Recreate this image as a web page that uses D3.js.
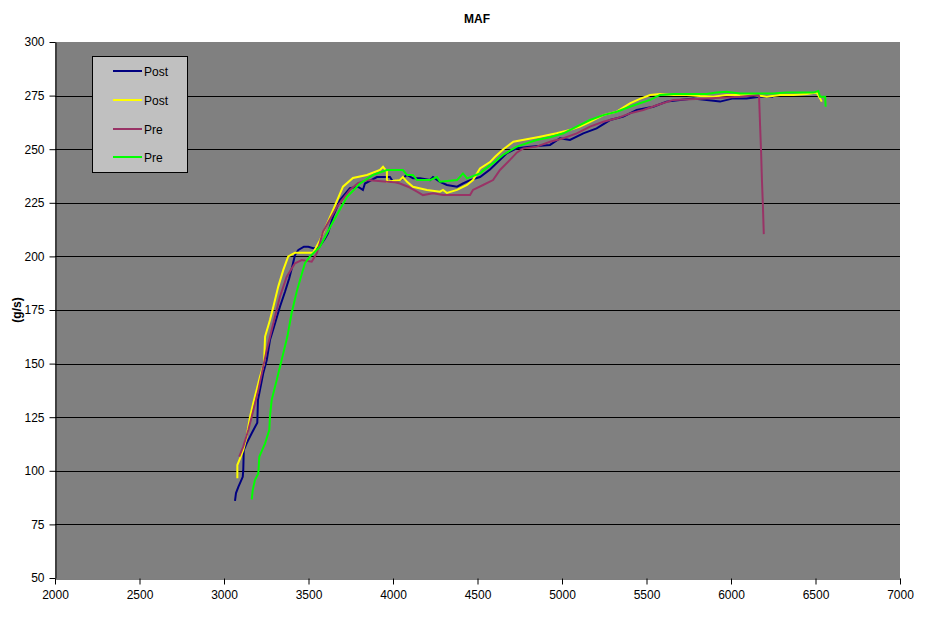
<!DOCTYPE html>
<html><head><meta charset="utf-8">
<script src="https://cdn.jsdelivr.net/npm/d3@7"></script>
<style>
body{margin:0;background:#fff;}
svg{display:block;font-family:"Liberation Sans",Arial,sans-serif;}
</style></head>
<body><svg id="c" width="938" height="624"></svg>
<script>
// ---- data ----
const chartTitle = "MAF";
const yAxisTitle = "(g/s)";
const xTicks = [2000,2500,3000,3500,4000,4500,5000,5500,6000,6500,7000];
const yTicks = [50,75,100,125,150,175,200,225,250,275,300];
const seriesNames = ["Post","Post","Pre","Pre"];
const seriesColors = ["#000080","#FFFF00","#993366","#00FF00"];

const postBlue = [[3065,86],[3071,89.6],[3085,92.5],[3111,97.2],[3114,100.3],[3117,109.7],[3134,112.8],[3164,117.5],[3197,122.4],[3201,133],[3232,145.5],[3253,151.7],[3272,161],[3296,167.2],[3331,176.5],[3361,183.5],[3386,189.8],[3406,196],[3420,200.7],[3440,203],[3473,204.5],[3499,204.5],[3528,203.8],[3560,204],[3598,208.4],[3615,210.8],[3645,218.5],[3686,226.3],[3745,231.8],[3793,232.5],[3822,231],[3834,234],[3905,237],[3982,237],[4000,234.8],[4041,235.6],[4083,238],[4118,236.4],[4160,236.4],[4219,235.6],[4237,237],[4278,234.8],[4319,233.3],[4379,232.5],[4414,234],[4456,235.6],[4515,237],[4574,240.5],[4673,248.1],[4732,250.4],[4811,251.2],[4929,252],[4988,255.1],[5047,254.3],[5126,257.4],[5205,259.7],[5284,263.6],[5363,265.2],[5442,268.3],[5540,269.8],[5619,272.2],[5698,273],[5777,273.7],[5856,273],[5935,272.2],[6013,273.7],[6092,273.7],[6171,274.5],[6250,274.5]];

const postYellow = [[3079,96.5],[3079,102.7],[3095,105.8],[3114,109.7],[3134,115.9],[3154,125.2],[3173,131.5],[3213,143.9],[3237,150],[3243,162.6],[3272,170.3],[3292,176.5],[3321,185.9],[3351,193.7],[3380,200],[3420,201.7],[3527,201.7],[3568,207.6],[3645,221.6],[3704,232.5],[3763,236.6],[3846,238],[3923,240.3],[3941,241.8],[3964,239.5],[3964,234.8],[4041,235.6],[4059,237],[4083,234.8],[4118,232.5],[4201,231],[4278,230.2],[4296,231],[4319,229.6],[4379,231],[4438,233.3],[4473,235.6],[4515,241],[4574,244],[4604,246.5],[4653,250],[4712,253.5],[4791,254.6],[4870,255.8],[4968,257.4],[5047,259],[5106,260.5],[5166,262.8],[5244,265.9],[5324,267.5],[5402,271.4],[5461,273.5],[5521,275.3],[5580,275.7],[5659,275.3],[5738,275.3],[5817,274.8],[5895,274.5],[5974,275.3],[6053,275.3],[6132,275.3],[6211,274.5],[6290,275.3],[6369,275.3],[6448,275.7],[6507,276.4],[6527,273.7],[6537,272.2]];

const prePurple = [[3090,106.6],[3114,111.3],[3144,119],[3164,125.2],[3203,137.7],[3253,156.4],[3282,165.7],[3331,181.2],[3371,190.5],[3420,196.8],[3460,198.3],[3519,197.5],[3550,201.6],[3586,211.5],[3669,223.2],[3745,231],[3793,234.2],[3846,235.6],[3964,234.8],[4012,234.6],[4041,234],[4089,232.5],[4142,230.2],[4177,228.6],[4237,229.4],[4296,228.6],[4456,228.6],[4473,231],[4533,233.3],[4592,235.6],[4633,240.3],[4692,245],[4734,248.5],[4771,250.4],[4850,251.2],[4929,253.5],[5008,255.1],[5087,257.4],[5166,260.5],[5244,262.8],[5324,264.4],[5402,266.7],[5481,268.3],[5560,270.5],[5659,273],[5856,273.7],[6053,274.5],[6162,275.3],[6166,274.8],[6172,261.3],[6178,248.8],[6183,235.6],[6189,223.2],[6194,210.4]];

const preGreen = [[3164,86.7],[3170,91],[3183,95.7],[3203,98.8],[3209,106.6],[3243,112.8],[3268,119],[3272,125.2],[3282,133],[3312,142.4],[3341,151.7],[3375,162.6],[3400,173.5],[3430,183.5],[3450,189],[3479,196.8],[3509,200],[3568,204.5],[3645,216.2],[3728,227.8],[3805,234],[3882,238],[3964,240.3],[4059,240.3],[4083,238],[4118,238],[4142,235.6],[4219,235.6],[4260,237],[4278,234.8],[4379,235.6],[4414,238.7],[4438,236.4],[4515,238.7],[4533,240],[4592,243.5],[4651,247.3],[4732,251.2],[4850,254.3],[4929,255.6],[5008,257.4],[5087,260.5],[5166,263.6],[5244,265.9],[5324,267.5],[5402,269.8],[5461,271.4],[5521,273],[5580,275.3],[5659,275.7],[5757,275.7],[5856,275.7],[5915,276.4],[5974,276.8],[6053,276],[6152,276],[6250,276],[6329,276.4],[6408,276.4],[6487,276.4],[6517,277.1],[6527,274.5],[6557,274.5],[6560,269.8]];

const seriesData = [postBlue, postYellow, prePurple, preGreen];

// ---- drawing ----
const svg = d3.select("#c");
const L = 55, R = 900, T = 42, B = 578;
const x = d3.scaleLinear().domain([2000,7000]).range([L,R]);
const y = d3.scaleLinear().domain([50,300]).range([B,T]);

svg.append("rect").attr("x",L).attr("y",T).attr("width",R-L).attr("height",B-T).attr("fill","#808080");

// gridlines
svg.append("g").selectAll("line").data(yTicks.filter(v=>v>50 && v<300)).join("line")
  .attr("x1",L).attr("x2",R).attr("y1",d=>Math.round(y(d))+0.5).attr("y2",d=>Math.round(y(d))+0.5)
  .attr("stroke","#000").attr("stroke-width",1);

// series
const line = d3.line().x(d=>x(d[0])).y(d=>y(d[1]));
svg.append("clipPath").attr("id","clp").append("rect").attr("x",L).attr("y",T).attr("width",R-L).attr("height",B-T);
const g = svg.append("g").attr("clip-path","url(#clp)");
seriesData.forEach((s,i)=>{
  g.append("path").datum(s).attr("d",line).attr("fill","none")
   .attr("stroke",seriesColors[i]).attr("stroke-width",2).attr("stroke-linejoin","miter");
});

// axes
const yAxis = d3.axisLeft(y).tickValues(yTicks).tickSize(6).tickSizeOuter(0).tickPadding(5).tickFormat(d3.format("d"));
const xAxis = d3.axisBottom(x).tickValues(xTicks).tickSize(6).tickSizeOuter(0).tickPadding(6).tickFormat(d3.format("d"));
const ya = svg.append("g").attr("transform",`translate(${L+0.5},0)`).call(yAxis);
const xa = svg.append("g").attr("transform",`translate(0,${B+0.5})`).call(xAxis);
[ya,xa].forEach(a=>{
  a.select(".domain").attr("stroke","#000");
  a.selectAll(".tick line").attr("stroke","#000");
  a.selectAll("text").attr("fill","#000").style("font-size","12px").style("font-family","'Liberation Sans',Arial,sans-serif");
});

// titles
svg.append("text").attr("x",477).attr("y",23).attr("text-anchor","middle")
  .style("font-size","12px").style("font-weight","bold").text(chartTitle);
svg.append("text").attr("transform","translate(21,310) rotate(-90)").attr("text-anchor","middle")
  .style("font-size","12px").style("font-weight","bold").text(yAxisTitle);

// legend
const lg = svg.append("g");
lg.append("rect").attr("x",92.5).attr("y",56.5).attr("width",95).attr("height",116)
  .attr("fill","#C0C0C0").attr("stroke","#000").attr("stroke-width",1);
const rowY = [71,100,129,157];
seriesNames.forEach((n,i)=>{
  lg.append("line").attr("x1",113).attr("x2",142).attr("y1",rowY[i]).attr("y2",rowY[i])
    .attr("stroke",seriesColors[i]).attr("stroke-width",2);
  lg.append("text").attr("x",144).attr("y",rowY[i]+4.5).style("font-size","12px").attr("fill","#000").text(n);
});
</script></body></html>
